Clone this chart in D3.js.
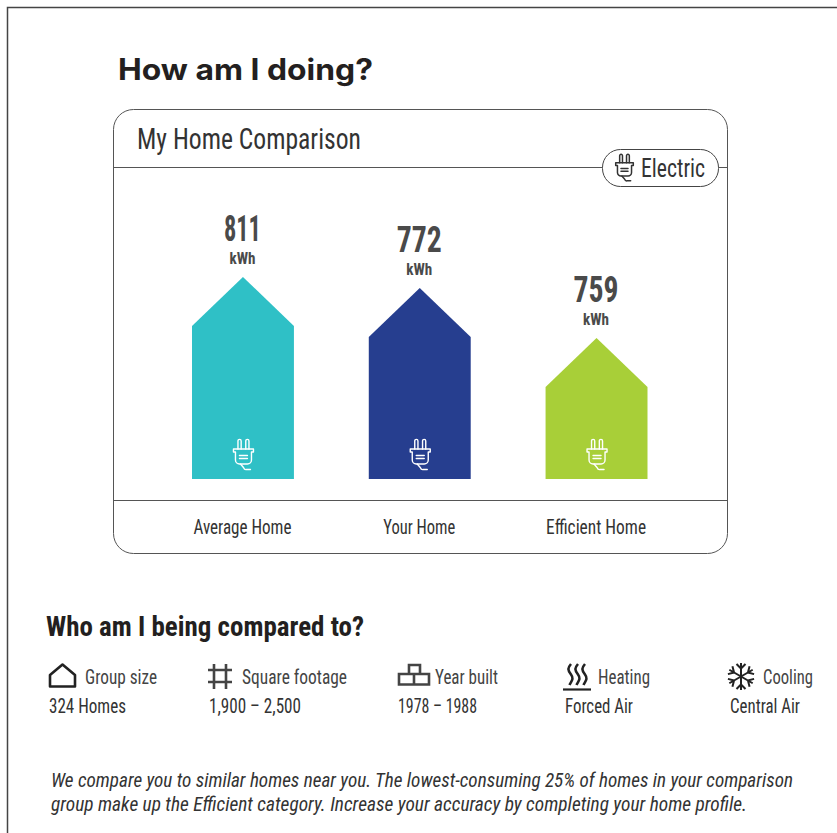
<!DOCTYPE html>
<html>
<head>
<meta charset="utf-8">
<style>
  html, body { margin: 0; padding: 0; background: #fff; }
  svg { display: block; }
</style>
<script src="https://cdnjs.cloudflare.com/ajax/libs/d3/7.8.5/d3.min.js"></script>
</head>
<body>
<svg id="chart" width="837" height="833"></svg>
<script>
const categories = ["Average Home", "Your Home", "Efficient Home"];
const usage = [811, 772, 759];
const unit = "kWh";
const barColors = ["#2fc0c6", "#263e8f", "#a8cf38"];
const usageStops = [759, 772, 811];
const compareLabels = ["Group size", "Square footage", "Year built", "Heating", "Cooling"];
const compareValues = ["324 Homes", "1,900 – 2,500", "1978 – 1988", "Forced Air", "Central Air"];

const NARROW = "'Liberation Sans Narrow','Roboto Condensed',Roboto,sans-serif";
const svg = d3.select("#chart");

function label(text, x, y, size, width, opts = {}) {
  const t = svg.append("text")
    .attr("x", x).attr("y", y)
    .attr("font-family", opts.family || NARROW)
    .attr("font-size", size)
    .attr("font-weight", opts.weight || 400)
    .attr("font-style", opts.style || "normal")
    .attr("text-anchor", opts.anchor || "start")
    .attr("fill", opts.fill || "#333")
    .text(text);
  if (width) t.attr("textLength", width).attr("lengthAdjust", "spacingAndGlyphs");
  return t;
}

// Plug glyph, origin at the top centre of the prongs.
function plug(x, y, scale, color, width) {
  const g = svg.append("g")
    .attr("transform", `translate(${x},${y}) scale(${scale})`)
    .attr("fill", "none").attr("stroke", color)
    .attr("stroke-width", width).attr("stroke-linejoin", "round").attr("stroke-linecap", "round");
  g.append("path").attr("d", "M-5.5,10V2a1.6,1.6 0 0 1 3.2,0V10M2.3,10V2a1.6,1.6 0 0 1 3.2,0V10");
  g.append("path").attr("d", "M-10,13V10H10V13H8V21a4,4 0 0 1 -4,4H-4a4,4 0 0 1 -4,-4V13Z");
  g.append("path").attr("d", "M-4,16.5H4M-4,19.5H4");
  g.append("path").attr("d", "M-3,25L0,28.5Q1,31 3,30.5H7");
}

// Page frame
svg.append("path").attr("d", "M7.5,833V7.5H837").attr("fill", "none").attr("stroke", "#444").attr("stroke-width", 1.5);

label("How am I doing?", 118, 80, 29.5, 255, { family: "Inter,'Open Sans',sans-serif", weight: 700, fill: "#231f20" });

// Comparison card
svg.append("rect").attr("x", 113.5).attr("y", 109.5).attr("width", 614).attr("height", 444).attr("rx", 20)
  .attr("fill", "#fff").attr("stroke", "#555").attr("stroke-width", 1);
svg.append("line").attr("x1", 113).attr("x2", 727).attr("y1", 167.5).attr("y2", 167.5).attr("stroke", "#555");
svg.append("line").attr("x1", 113).attr("x2", 727).attr("y1", 500.5).attr("y2", 500.5).attr("stroke", "#555");
label("My Home Comparison", 137, 149, 30, 224);

svg.append("rect").attr("x", 602.5).attr("y", 149.5).attr("width", 116).attr("height", 37).attr("rx", 18)
  .attr("fill", "#fff").attr("stroke", "#444");
plug(624.5, 154, 0.88, "#333", 1.7);
label("Electric", 641, 177, 26, 64);

// Houses
const x = d3.scaleBand().domain(categories).range([192, 647.5]).paddingInner(0.4234).paddingOuter(0);
const baseY = 479;
const yScale = d3.scaleLinear().domain(usageStops).range([338, 288, 277]);
const roof = 49;
const house = d3.line();

categories.forEach((c, i) => {
  const left = x(c), w = x.bandwidth(), top = yScale(usage[i]), mid = left + w / 2;
  svg.append("path")
    .attr("d", house([[left, baseY], [left, top + roof], [mid, top], [left + w, top + roof], [left + w, baseY]]) + "Z")
    .attr("fill", barColors[i]);
  plug(mid + 0.5, 439, 1, "#fff", 1.4);
  label(usage[i], mid - 0.5, top - 36, 36, usage[i] === 811 ? 37 : 45, { anchor: "middle", weight: 700, fill: "#4a4a4a" });
  label(unit, mid - 0.5, top - 13, 16, 26, { anchor: "middle", weight: 700, fill: "#4a4a4a" });
  label(c, mid - 0.5, 534, 19.5, [98, 72, 100][i], { anchor: "middle" });
});

// Comparison group
label("Who am I being compared to?", 46, 636, 28, 318, { weight: 700, fill: "#231f20" });

const rowA = [[85, 72], [242, 105], [435, 63], [598, 52], [763, 50]];
const rowB = [[49, 77], [209, 92], [398, 79], [565, 68], [730, 70]];
compareLabels.forEach((t, i) => {
  label(t, rowA[i][0], 684, 19.5, rowA[i][1], { fill: "#444" });
  label(compareValues[i], rowB[i][0], 713, 19.5, rowB[i][1]);
});

const icon = svg.append("g").attr("fill", "none").attr("stroke", "#222").attr("stroke-width", 2.6);
icon.append("path").attr("d", "M50,686.5V675L62.5,664.5L75,675V686.5Z").attr("stroke-linejoin", "round");
icon.append("path").attr("d", "M214,664V689M226,664V689M208,670H232M208,682H232").attr("stroke", "#444");
icon.append("path").attr("d", "M409,674V665H420V674M399,674H429V684.5H399ZM414,674V684.5").attr("stroke", "#444");
icon.append("path").attr("d", "M563,689.5H591").attr("stroke-width", 2.2);
[570, 577, 584].forEach(sx => {
  icon.append("path").attr("d", `M${sx + 1},664c-3.5,4 -3.5,6 0,10.5c3.5,4.5 0,7 -1.5,10.5`);
});
d3.range(6).forEach(k => {
  icon.append("path")
    .attr("transform", `translate(741,676.5) rotate(${k * 60})`)
    .attr("d", "M0,0V-13.5M-4.5,-12.5L0,-8L4.5,-12.5")
    .attr("stroke-width", 2);
});

// Footnote
label("We compare you to similar homes near you. The lowest-consuming 25% of homes in your comparison", 51, 787, 20, 742, { style: "italic" });
label("group make up the Efficient category. Increase your accuracy by completing your home profile.", 51, 811, 20, 696, { style: "italic" });
</script>
</body>
</html>
